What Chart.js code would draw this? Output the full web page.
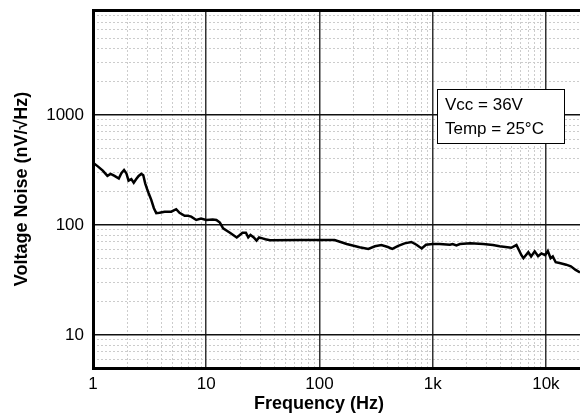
<!DOCTYPE html>
<html>
<head>
<meta charset="utf-8">
<script src="https://cdn.jsdelivr.net/npm/chart.js@4/dist/chart.umd.min.js"></script>
<style>
  html, body { margin: 0; padding: 0; background: #fff; }
  #wrap { width: 580px; height: 416px; }
</style>
</head>
<body>
<div id="wrap"><canvas id="noiseChart"></canvas></div>
<script>
// Frequency (Hz) and noise (nV/rtHz)
const freqHz = [1, 1.11, 1.22, 1.34, 1.43, 1.55, 1.69, 1.78, 1.88, 1.97, 2.06, 2.18, 2.29, 2.41, 2.53,
  2.67, 2.78, 2.89, 3.01, 3.10, 3.27, 3.45, 3.62, 3.87, 4.29, 4.91, 5.43, 5.81, 6.45, 6.88, 7.37,
  8.16, 9.0, 10.0, 11.4, 12.3, 13.2, 14.1, 16.2, 18.6, 19.8, 20.9, 22.4, 23.5, 24.6, 26.3, 27.8,
  29.3, 31.9, 33.3, 36.5, 70, 136, 174, 226, 270, 309, 352, 402, 440, 496, 565, 648, 719, 800,
  873, 1000, 1150, 1420, 1500, 1620, 1740, 2150, 2800, 3400, 3900, 4940, 5490, 6080, 6330, 6990,
  7400, 7960, 8530, 9120, 9840, 10400, 11000, 11500, 12200, 13200, 15100, 16600, 18300, 20000];
const noise = [368, 339, 312, 279, 291, 279, 264, 295, 316, 295, 253, 261, 242, 261, 279,
  291, 283, 239, 211, 194, 169, 142, 128, 129, 132, 132, 139, 129, 121, 121, 119,
  111, 114, 111, 112, 111, 105, 93, 85, 77, 81, 85, 85, 77, 81, 77, 72,
  77, 75, 74, 72.5, 73, 73, 67, 62.7, 60.5, 64, 65.5, 63, 60.5, 64.5, 68, 70, 66, 61,
  66, 67, 67, 66, 67, 65, 67, 68, 67, 65.6, 64, 62, 65.6, 53, 49.8, 56.5,
  51.6, 57.5, 52, 55, 53, 58, 49.8, 51.6, 45.8, 45, 43.5, 42, 39, 37];

const xLabels = { 1: '1', 10: '10', 100: '100', 1000: '1k', 10000: '10k' };
const yLabels = { 10: '10', 100: '100', 1000: '1000' };

const FONT = '"Liberation Sans", Arial, sans-serif';
const X_MIN = 1, X_MAX = 20000, Y_MIN = 5, Y_MAX = 9000;

// all 1..9 x 10^k ticks inside [min, max]
function logTicks(min, max) {
  const out = [];
  for (let e = -1; e <= 5; e++) {
    for (let m = 1; m <= 9; m++) {
      const v = m * Math.pow(10, e);
      if (v >= min * 0.999 && v <= max * 1.001) out.push({ value: v });
    }
  }
  return out;
}

function isDecade(v) {
  const l = Math.log10(v);
  return Math.abs(l - Math.round(l)) < 1e-6;
}

// hidden axis that only draws the dotted minor grid, underneath everything
function minorAxis(axis, position, min, max) {
  return {
    type: 'logarithmic',
    axis: axis,
    position: position,
    min: min,
    max: max,
    z: -1,
    afterBuildTicks: (scale) => { scale.ticks = logTicks(min, max); },
    afterFit: (scale) => {
      if (axis === 'x') scale.height = 0; else scale.width = 0;
      scale.paddingLeft = scale.paddingRight = scale.paddingTop = scale.paddingBottom = 0;
    },
    ticks: { display: false, autoSkip: false },
    grid: {
      drawTicks: false,
      color: '#cccccc',
      lineWidth: (c) => (isDecade(c.tick.value) || c.tick.value >= max * 0.999) ? 0 : 1
    },
    border: { display: false, dash: [2, 2] }
  };
}

// text box in the upper right
const infoBox = {
  id: 'infoBox',
  afterDatasetsDraw(chart) {
    const ctx = chart.ctx;
    ctx.save();
    ctx.fillStyle = '#fff';
    ctx.fillRect(437, 89, 127, 54);
    ctx.strokeStyle = '#000';
    ctx.lineWidth = 1;
    ctx.strokeRect(437.5, 89.5, 127, 54);
    ctx.fillStyle = '#000';
    ctx.font = '17px ' + FONT;
    ctx.textBaseline = 'middle';
    ctx.fillText('Vcc = 36V', 445, 105);
    ctx.fillText('Temp = 25°C', 445, 129);
    ctx.restore();
  }
};

new Chart(document.getElementById('noiseChart'), {
  type: 'line',
  data: {
    datasets: [{
      data: freqHz.map((f, i) => ({ x: f, y: noise[i] })),
      borderColor: '#000',
      borderWidth: 2.5,
      pointRadius: 0,
      tension: 0,
      fill: false
    }]
  },
  options: {
    responsive: true,
    maintainAspectRatio: false,
    animation: false,
    events: [],
    layout: { padding: { top: 10, right: 0, left: 0, bottom: 0 } },
    plugins: { legend: { display: false }, tooltip: { enabled: false } },
    scales: {
      xMinor: minorAxis('x', 'bottom', X_MIN, X_MAX),
      yMinor: minorAxis('y', 'left', Y_MIN, Y_MAX),
      x: {
        type: 'logarithmic',
        min: X_MIN,
        max: X_MAX,
        afterBuildTicks: (scale) => { scale.ticks = logTicks(X_MIN, X_MAX); },
        afterFit: (scale) => {
          scale.height = 48;
          scale.paddingLeft = 0;
          scale.paddingRight = 0;
        },
        ticks: {
          autoSkip: false,
          maxRotation: 0,
          padding: 6,
          color: '#000',
          font: { family: FONT, size: 17 },
          callback: (v) => xLabels[v] || ''
        },
        grid: {
          drawTicks: false,
          color: '#333',
          lineWidth: (c) => isDecade(c.tick.value) ? 1.5 : 0
        },
        border: { display: true, color: '#000', width: 3 },
        title: {
          display: true,
          text: 'Frequency (Hz)       ',
          color: '#000',
          font: { family: FONT, size: 18, weight: 'bold' },
          padding: { top: 0, bottom: 1 }
        }
      },
      y: {
        type: 'logarithmic',
        min: Y_MIN,
        max: Y_MAX,
        afterBuildTicks: (scale) => { scale.ticks = logTicks(Y_MIN, Y_MAX); },
        afterFit: (scale) => {
          scale.width = 93;
          scale.paddingTop = 0;
          scale.paddingBottom = 0;
        },
        ticks: {
          autoSkip: false,
          padding: 9,
          color: '#000',
          font: { family: FONT, size: 17 },
          callback: (v) => yLabels[v] || ''
        },
        grid: {
          drawTicks: false,
          color: (c) => c.tick.value >= Y_MAX * 0.999 ? '#000' : '#111',
          lineWidth: (c) => {
            if (c.tick.value >= Y_MAX * 0.999) return 3;
            return isDecade(c.tick.value) ? 1.5 : 0;
          }
        },
        border: { display: true, color: '#000', width: 3 },
        title: {
          display: true,
          text: 'Voltage Noise (nV/√Hz)',
          color: '#000',
          font: { family: FONT, size: 18, weight: 'bold' },
          padding: { top: 11, bottom: 0 }
        }
      }
    }
  },
  plugins: [infoBox]
});
</script>
</body>
</html>
